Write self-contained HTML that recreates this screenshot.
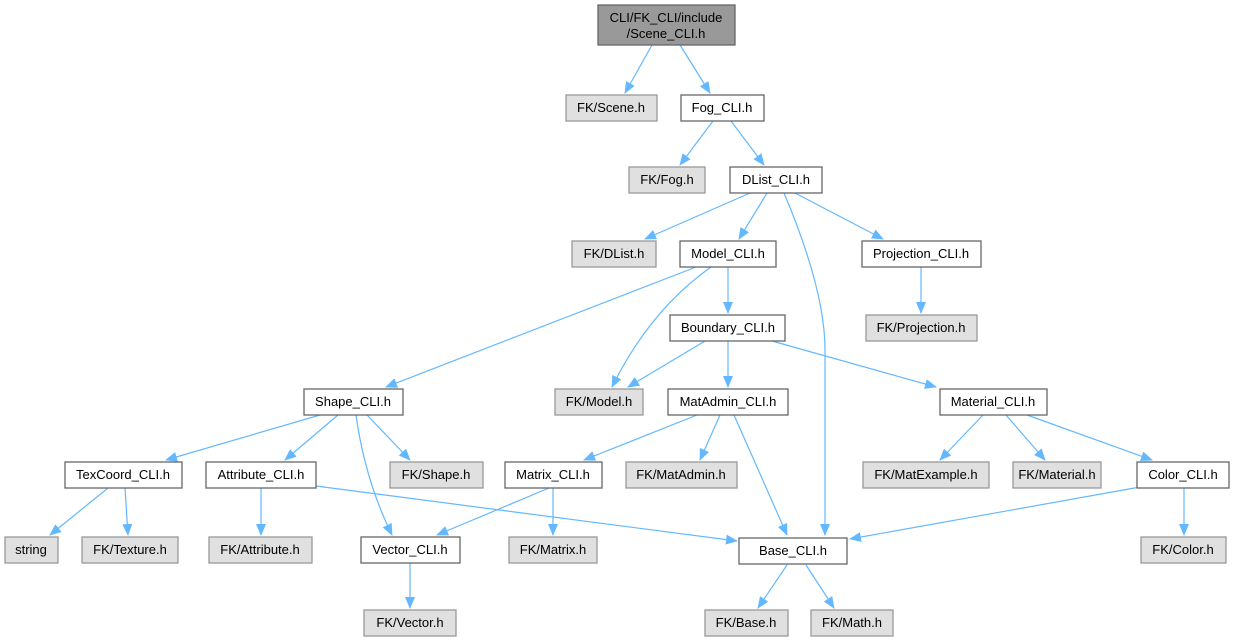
<!DOCTYPE html>
<html><head><meta charset="utf-8"><style>
html,body{margin:0;padding:0;background:#fff;}
svg{display:block;}
text{font-family:"Liberation Sans",Arial,sans-serif;font-size:13px;fill:#000;}
.n rect{fill:#fff;stroke:#666;stroke-width:1.3;}
.g rect{fill:#e0e0e0;stroke:#999;stroke-width:1.3;}
.e{fill:none;stroke:#63b8ff;stroke-width:1.2;}
</style></head><body>
<svg width="1234" height="641" viewBox="0 0 1234 641" xmlns="http://www.w3.org/2000/svg">
<defs><marker id="a" markerWidth="12" markerHeight="10" refX="11" refY="5" orient="auto" markerUnits="userSpaceOnUse"><path d="M0,0 L12,5 L0,10 z" fill="#63b8ff"/></marker></defs>
<g marker-end="url(#a)">
<path class="e" d="M652,45 L625,93"/>
<path class="e" d="M680,45 L710,93"/>
<path class="e" d="M713,121 L680,165"/>
<path class="e" d="M731,121 L764,165"/>
<path class="e" d="M750,193 L645,239"/>
<path class="e" d="M767,193 L739,239"/>
<path class="e" d="M795,193 L883,239"/>
<path class="e" d="M784,193 Q825,290 825,350 L825,535"/>
<path class="e" d="M921,267 L921,313"/>
<path class="e" d="M728,267 L728,313"/>
<path class="e" d="M711,267 Q650,310 612,387"/>
<path class="e" d="M696,267 L386,387"/>
<path class="e" d="M705,341 L628,387"/>
<path class="e" d="M728,341 L728,387"/>
<path class="e" d="M772,341 L936,387"/>
<path class="e" d="M320,415 L166,460"/>
<path class="e" d="M338,415 L285,460"/>
<path class="e" d="M367,415 L410,460"/>
<path class="e" d="M356,415 Q365,480 392,535"/>
<path class="e" d="M108,488 L50,535"/>
<path class="e" d="M125,488 L128,535"/>
<path class="e" d="M261,488 L261,535"/>
<path class="e" d="M316,486 L737,541"/>
<path class="e" d="M549,488 L437,535"/>
<path class="e" d="M553,488 L553,535"/>
<path class="e" d="M697,415 L584,460"/>
<path class="e" d="M720,415 L700,460"/>
<path class="e" d="M734,415 L787,535"/>
<path class="e" d="M983,415 L940,460"/>
<path class="e" d="M1006,415 L1045,460"/>
<path class="e" d="M1027,415 L1152,460"/>
<path class="e" d="M1140,487 L850,539"/>
<path class="e" d="M1184,488 L1184,535"/>
<path class="e" d="M787,565 L758,608"/>
<path class="e" d="M806,565 L834,608"/>
<path class="e" d="M410,563 L410,608"/>
</g>
<g class="n"><rect x="598" y="5" width="137" height="40" style="fill:#999;stroke:#666"/><text x="666" y="22" text-anchor="middle">CLI/FK_CLI/include</text><text x="666" y="38" text-anchor="middle">/Scene_CLI.h</text></g>
<g class="g"><rect x="566" y="95" width="91" height="26"/><text x="611" y="112" text-anchor="middle">FK/Scene.h</text></g>
<g class="n"><rect x="681" y="95" width="83" height="26"/><text x="722" y="112" text-anchor="middle">Fog_CLI.h</text></g>
<g class="g"><rect x="629" y="167" width="76" height="26"/><text x="667" y="184" text-anchor="middle">FK/Fog.h</text></g>
<g class="n"><rect x="730" y="167" width="92" height="26"/><text x="776" y="184" text-anchor="middle">DList_CLI.h</text></g>
<g class="g"><rect x="572" y="241" width="84" height="26"/><text x="614" y="258" text-anchor="middle">FK/DList.h</text></g>
<g class="n"><rect x="680" y="241" width="96" height="26"/><text x="728" y="258" text-anchor="middle">Model_CLI.h</text></g>
<g class="n"><rect x="862" y="241" width="119" height="26"/><text x="921" y="258" text-anchor="middle">Projection_CLI.h</text></g>
<g class="g"><rect x="866" y="315" width="111" height="26"/><text x="921" y="332" text-anchor="middle">FK/Projection.h</text></g>
<g class="n"><rect x="670" y="315" width="115" height="26"/><text x="728" y="332" text-anchor="middle">Boundary_CLI.h</text></g>
<g class="n"><rect x="304" y="389" width="99" height="26"/><text x="353" y="406" text-anchor="middle">Shape_CLI.h</text></g>
<g class="g"><rect x="555" y="389" width="88" height="26"/><text x="599" y="406" text-anchor="middle">FK/Model.h</text></g>
<g class="n"><rect x="668" y="389" width="120" height="26"/><text x="728" y="406" text-anchor="middle">MatAdmin_CLI.h</text></g>
<g class="n"><rect x="940" y="389" width="107" height="26"/><text x="993" y="406" text-anchor="middle">Material_CLI.h</text></g>
<g class="n"><rect x="65" y="462" width="117" height="26"/><text x="123" y="479" text-anchor="middle">TexCoord_CLI.h</text></g>
<g class="n"><rect x="206" y="462" width="110" height="26"/><text x="261" y="479" text-anchor="middle">Attribute_CLI.h</text></g>
<g class="g"><rect x="390" y="462" width="93" height="26"/><text x="436" y="479" text-anchor="middle">FK/Shape.h</text></g>
<g class="n"><rect x="505" y="462" width="97" height="26"/><text x="553" y="479" text-anchor="middle">Matrix_CLI.h</text></g>
<g class="g"><rect x="626" y="462" width="111" height="26"/><text x="681" y="479" text-anchor="middle">FK/MatAdmin.h</text></g>
<g class="g"><rect x="863" y="462" width="126" height="26"/><text x="926" y="479" text-anchor="middle">FK/MatExample.h</text></g>
<g class="g"><rect x="1013" y="462" width="88" height="26"/><text x="1057" y="479" text-anchor="middle">FK/Material.h</text></g>
<g class="n"><rect x="1137" y="462" width="92" height="26"/><text x="1183" y="479" text-anchor="middle">Color_CLI.h</text></g>
<g class="g"><rect x="5" y="537" width="53" height="26"/><text x="31" y="554" text-anchor="middle">string</text></g>
<g class="g"><rect x="82" y="537" width="96" height="26"/><text x="130" y="554" text-anchor="middle">FK/Texture.h</text></g>
<g class="g"><rect x="209" y="537" width="103" height="26"/><text x="260" y="554" text-anchor="middle">FK/Attribute.h</text></g>
<g class="n"><rect x="361" y="537" width="99" height="26"/><text x="410" y="554" text-anchor="middle">Vector_CLI.h</text></g>
<g class="g"><rect x="509" y="537" width="88" height="26"/><text x="553" y="554" text-anchor="middle">FK/Matrix.h</text></g>
<g class="n"><rect x="739" y="538" width="108" height="26"/><text x="793" y="555" text-anchor="middle">Base_CLI.h</text></g>
<g class="g"><rect x="1141" y="537" width="85" height="26"/><text x="1183" y="554" text-anchor="middle">FK/Color.h</text></g>
<g class="g"><rect x="364" y="610" width="92" height="26"/><text x="410" y="627" text-anchor="middle">FK/Vector.h</text></g>
<g class="g"><rect x="705" y="610" width="83" height="26"/><text x="746" y="627" text-anchor="middle">FK/Base.h</text></g>
<g class="g"><rect x="811" y="610" width="82" height="26"/><text x="852" y="627" text-anchor="middle">FK/Math.h</text></g>
</svg>
</body></html>
